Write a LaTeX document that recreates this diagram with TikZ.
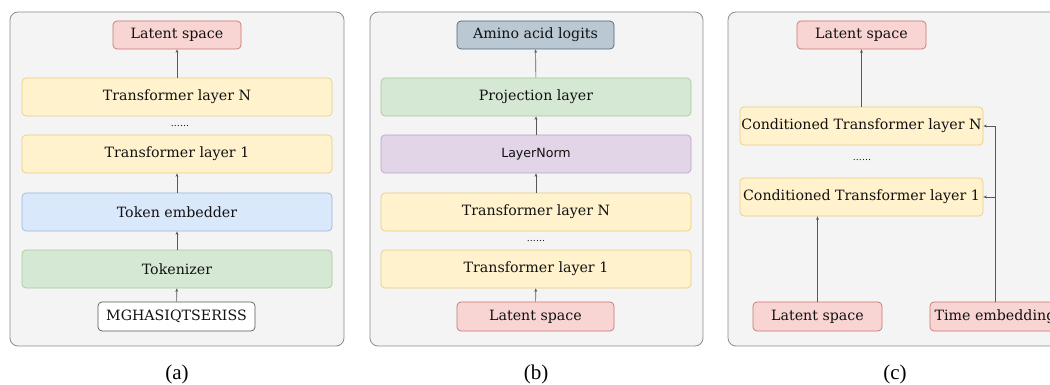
\documentclass[tikz,border=0pt]{standalone}
\usepackage{fontspec}
\setmainfont{DejaVu Serif}
\newfontfamily\capfont{Liberation Serif}
\newfontfamily\lnfont{DejaVu Sans}
\usetikzlibrary{arrows.meta}
\definecolor{panelfill}{HTML}{F4F4F4}
\definecolor{panelline}{HTML}{8C8C8C}
\definecolor{pinkf}{HTML}{F8D5D3}
\definecolor{pinkd}{HTML}{C9736E}
\definecolor{yelf}{HTML}{FFF2CC}
\definecolor{yeld}{HTML}{E6CF85}
\definecolor{bluef}{HTML}{DAE8FC}
\definecolor{blued}{HTML}{9DB5D9}
\definecolor{greenf}{HTML}{D5E8D4}
\definecolor{greend}{HTML}{A6CC94}
\definecolor{purpf}{HTML}{E1D5E7}
\definecolor{purpd}{HTML}{B9A3C6}
\definecolor{slatef}{HTML}{BAC8D3}
\definecolor{slated}{HTML}{4D667A}
\definecolor{txt}{HTML}{111111}
\tikzset{
  x=1pt, y=-1pt,
  panel/.style={draw=panelline, fill=panelfill, rounded corners=8pt, line width=0.8pt},
  box/.style={rounded corners=4pt, line width=0.7pt, inner sep=0pt, text=txt,
    font=\fontsize{14.2}{16}\selectfont},
  pinkbox/.style={box, fill=pinkf, draw=pinkd},
  yelbox/.style={box, fill=yelf, draw=yeld},
  bluebox/.style={box, fill=bluef, draw=blued},
  greenbox/.style={box, fill=greenf, draw=greend},
  purpbox/.style={box, fill=purpf, draw=purpd},
  slatebox/.style={box, fill=slatef, draw=slated},
  whitebox/.style={box, fill=white, draw=black!65},
  wide/.style={minimum width=310pt, minimum height=38pt},
  small/.style={minimum width=128pt, minimum height=28pt},
  conn/.style={draw=black!65, line width=0.6pt, -{Stealth[length=3.5pt,width=2.8pt]}},
  dotsnode/.style={inner sep=0pt, font=\fontsize{9.5}{10}\selectfont, text=txt},
  captext/.style={inner sep=0pt, font=\capfont\fontsize{21}{23}\selectfont}
}
\begin{document}
\begin{tikzpicture}
\useasboundingbox (0,0) rectangle (1050,385);
\clip (0,0) rectangle (1050,385);
% panels
\draw[panel] (10,12) rectangle (344,346);
\draw[panel] (370,12) rectangle (703,346);
\draw[panel] (728,12) rectangle (1062,346);
% panel (a)
\node[pinkbox, small] (lsA) at (177,35) {Latent space};
\node[yelbox, wide] (tlNA) at (177,97) {Transformer layer N};
\node[dotsnode] (dotsA) at (180,126) {......};
\node[yelbox, wide] (tl1A) at (177,154) {Transformer layer 1};
\node[bluebox, wide] (teA) at (177,212) {Token embedder};
\node[greenbox, wide] (tokA) at (177,269) {Tokenizer};
\node[whitebox, minimum width=157pt, minimum height=29pt] (seqA) at (176.5,316.5) {MGHASIQTSERISS};
\draw[conn] (seqA) -- (tokA);
\draw[conn] (tokA) -- (teA);
\draw[conn] (teA) -- (tl1A);
\draw[conn] (tlNA) -- (lsA);
\node[captext] (capA) at (177,374) {(a)};
% panel (b)
\node[slatebox, minimum width=157pt, minimum height=28pt] (logB) at (535.5,35) {Amino acid logits};
\node[greenbox, wide] (projB) at (536,97) {Projection layer};
\node[purpbox, wide, font=\lnfont\fontsize{12.6}{14}\selectfont] (lnB) at (536,154) {LayerNorm};
\node[yelbox, wide] (tlNB) at (536,212) {Transformer layer N};
\node[dotsnode] (dotsB) at (536,241) {......};
\node[yelbox, wide] (tl1B) at (536,269) {Transformer layer 1};
\node[pinkbox, minimum width=157pt, minimum height=29pt] (lsB) at (535.5,316.5) {Latent space};
\draw[conn] (lsB) -- (tl1B);
\draw[conn] (tlNB) -- (lnB);
\draw[conn] (lnB) -- (projB);
\draw[conn] (projB) -- (logB);
\node[captext] (capB) at (536,374) {(b)};
% panel (c)
\node[pinkbox, minimum width=129pt, minimum height=28pt] (lsCt) at (861.5,35) {Latent space};
\node[yelbox, minimum width=243pt, minimum height=38pt] (ctlN) at (861.5,126) {Conditioned Transformer layer N};
\node[dotsnode] (dotsC) at (862,160) {......};
\node[yelbox, minimum width=243pt, minimum height=38pt] (ctl1) at (861.5,197) {Conditioned Transformer layer 1};
\node[pinkbox, minimum width=129pt, minimum height=29pt] (lsCb) at (817.5,316.5) {Latent space};
\node[pinkbox, minimum width=130pt, minimum height=29pt] (teC) at (995,316.5) {Time embedding};
\draw[conn] (lsCb) -- (lsCb |- ctl1.south);
\draw[conn] (ctlN.north -| lsCt) -- (lsCt);
\draw[conn] (teC.north) -- (teC.north |- ctlN.east) -- (ctlN.east);
\draw[conn] (teC.north |- ctl1.east) -- (ctl1.east);
\node[captext] (capC) at (895,374) {(c)};
\end{tikzpicture}
\end{document}
